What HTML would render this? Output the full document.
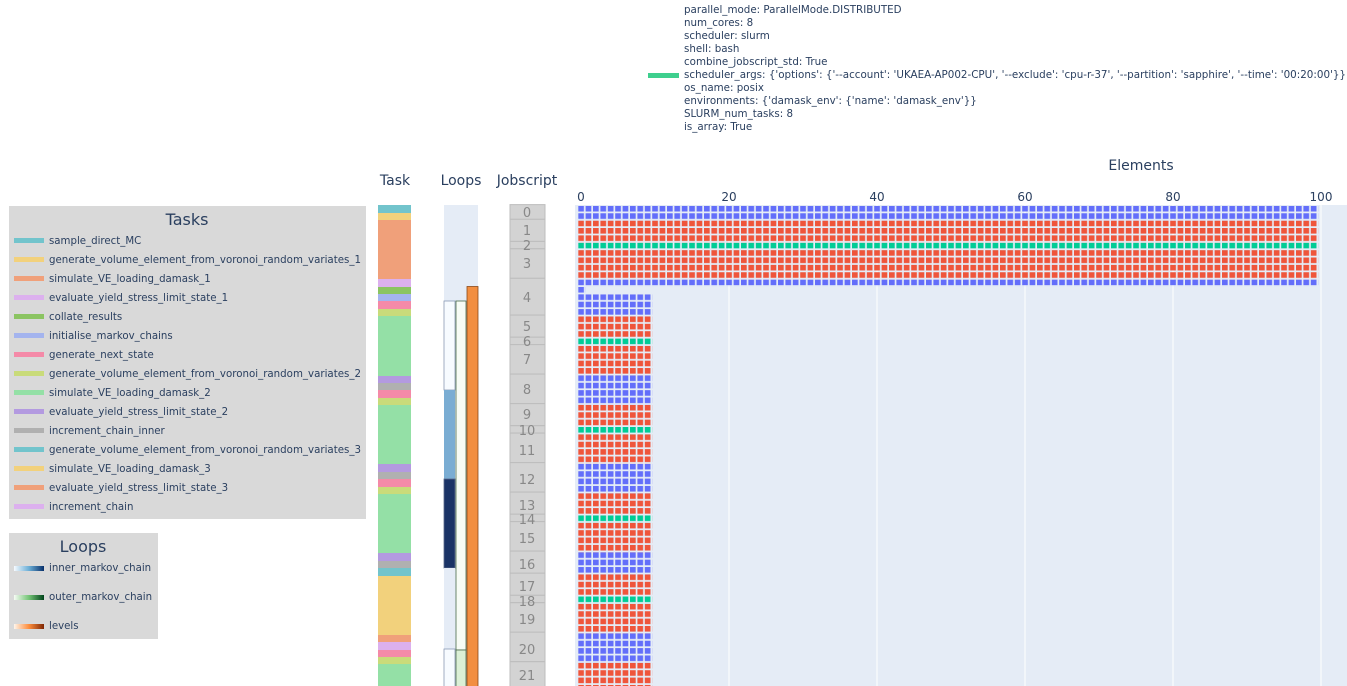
<!DOCTYPE html>
<html><head><meta charset="utf-8"><style>
html,body{margin:0;padding:0;background:#fff;width:1347px;height:686px;overflow:hidden}
svg{display:block;font-family:"DejaVu Sans","Liberation Sans",sans-serif}
</style></head><body>
<svg width="1347" height="686" viewBox="0 0 1347 686" xmlns="http://www.w3.org/2000/svg">
<defs>
<pattern id="pb" patternUnits="userSpaceOnUse" x="578.2" y="205.9" width="7.4" height="7.37"><rect width="5.7" height="5.6" fill="#636efa"/></pattern>
<pattern id="pr" patternUnits="userSpaceOnUse" x="578.2" y="205.9" width="7.4" height="7.37"><rect width="5.7" height="5.6" fill="#ef553b"/></pattern>
<pattern id="pg" patternUnits="userSpaceOnUse" x="578.2" y="205.9" width="7.4" height="7.37"><rect width="5.7" height="5.6" fill="#00cc96"/></pattern>
<linearGradient id="gi"><stop offset="0" stop-color="#f7fbff"/><stop offset="0.5" stop-color="#6baed6"/><stop offset="1" stop-color="#08306b"/></linearGradient>
<linearGradient id="go"><stop offset="0" stop-color="#f7fcf5"/><stop offset="0.5" stop-color="#74c476"/><stop offset="1" stop-color="#00441b"/></linearGradient>
<linearGradient id="gl"><stop offset="0" stop-color="#fff5eb"/><stop offset="0.5" stop-color="#fd8d3c"/><stop offset="1" stop-color="#7f2704"/></linearGradient>
</defs>

<rect x="648" y="73" width="31" height="5" fill="#3ecf8e"/>
<g font-size="10.3" fill="#2a3f5f">
<text x="684" y="13">parallel_mode: ParallelMode.DISTRIBUTED</text>
<text x="684" y="26">num_cores: 8</text>
<text x="684" y="39">scheduler: slurm</text>
<text x="684" y="52">shell: bash</text>
<text x="684" y="65">combine_jobscript_std: True</text>
<text x="684" y="78" textLength="662" lengthAdjust="spacingAndGlyphs">scheduler_args: {'options': {'--account': 'UKAEA-AP002-CPU', '--exclude': 'cpu-r-37', '--partition': 'sapphire', '--time': '00:20:00'}}</text>
<text x="684" y="91">os_name: posix</text>
<text x="684" y="104">environments: {'damask_env': {'name': 'damask_env'}}</text>
<text x="684" y="117">SLURM_num_tasks: 8</text>
<text x="684" y="130">is_array: True</text>
</g>

<g font-size="14" fill="#2a3f5f" text-anchor="middle">
<text x="395" y="185">Task</text>
<text x="461" y="185">Loops</text>
<text x="527" y="185">Jobscript</text>
<text x="1141" y="170">Elements</text>
</g>

<rect x="9" y="206" width="357" height="313" fill="#d9d9d9"/>
<text x="187" y="225" font-size="16" fill="#2a3f5f" text-anchor="middle">Tasks</text>
<g font-size="10.2" fill="#2a3f5f">
<rect x="14" y="238" width="30" height="5" fill="#72c4cc"/><text x="49" y="244">sample_direct_MC</text>
<rect x="14" y="257" width="30" height="5" fill="#f2d17c"/><text x="49" y="263" textLength="312" lengthAdjust="spacingAndGlyphs">generate_volume_element_from_voronoi_random_variates_1</text>
<rect x="14" y="276" width="30" height="5" fill="#f0a07a"/><text x="49" y="282">simulate_VE_loading_damask_1</text>
<rect x="14" y="295" width="30" height="5" fill="#dcb0ee"/><text x="49" y="301">evaluate_yield_stress_limit_state_1</text>
<rect x="14" y="314" width="30" height="5" fill="#8bc462"/><text x="49" y="320">collate_results</text>
<rect x="14" y="333" width="30" height="5" fill="#a4b4ee"/><text x="49" y="339">initialise_markov_chains</text>
<rect x="14" y="352" width="30" height="5" fill="#f48aa8"/><text x="49" y="358">generate_next_state</text>
<rect x="14" y="371" width="30" height="5" fill="#c9db7a"/><text x="49" y="377" textLength="312" lengthAdjust="spacingAndGlyphs">generate_volume_element_from_voronoi_random_variates_2</text>
<rect x="14" y="390" width="30" height="5" fill="#94e0a6"/><text x="49" y="396">simulate_VE_loading_damask_2</text>
<rect x="14" y="409" width="30" height="5" fill="#b39ae0"/><text x="49" y="415">evaluate_yield_stress_limit_state_2</text>
<rect x="14" y="428" width="30" height="5" fill="#b0b0b0"/><text x="49" y="434">increment_chain_inner</text>
<rect x="14" y="447" width="30" height="5" fill="#72c4cc"/><text x="49" y="453" textLength="312" lengthAdjust="spacingAndGlyphs">generate_volume_element_from_voronoi_random_variates_3</text>
<rect x="14" y="466" width="30" height="5" fill="#f2d17c"/><text x="49" y="472">simulate_VE_loading_damask_3</text>
<rect x="14" y="485" width="30" height="5" fill="#f0a07a"/><text x="49" y="491">evaluate_yield_stress_limit_state_3</text>
<rect x="14" y="504" width="30" height="5" fill="#dcb0ee"/><text x="49" y="510">increment_chain</text>
</g>

<rect x="9" y="533" width="149" height="106" fill="#d9d9d9"/>
<text x="83" y="552" font-size="16" fill="#2a3f5f" text-anchor="middle">Loops</text>
<g font-size="10.2" fill="#2a3f5f">
<rect x="14" y="566" width="30" height="5" fill="url(#gi)"/><text x="49" y="571">inner_markov_chain</text>
<rect x="14" y="595" width="30" height="5" fill="url(#go)"/><text x="49" y="600">outer_markov_chain</text>
<rect x="14" y="624" width="30" height="5" fill="url(#gl)"/><text x="49" y="629">levels</text>
</g>

<g>
<rect x="378" y="205" width="33" height="8" fill="#72c4cc"/>
<rect x="378" y="213" width="33" height="7" fill="#f2d17c"/>
<rect x="378" y="220" width="33" height="59" fill="#f0a07a"/>
<rect x="378" y="279" width="33" height="8" fill="#dcb0ee"/>
<rect x="378" y="287" width="33" height="7" fill="#8bc462"/>
<rect x="378" y="294" width="33" height="7" fill="#a4b4ee"/>
<rect x="378" y="301" width="33" height="8" fill="#f48aa8"/>
<rect x="378" y="309" width="33" height="7" fill="#c9db7a"/>
<rect x="378" y="316" width="33" height="60" fill="#94e0a6"/>
<rect x="378" y="376" width="33" height="7" fill="#b39ae0"/>
<rect x="378" y="383" width="33" height="7" fill="#b0b0b0"/>
<rect x="378" y="390" width="33" height="8" fill="#f48aa8"/>
<rect x="378" y="398" width="33" height="7" fill="#c9db7a"/>
<rect x="378" y="405" width="33" height="59" fill="#94e0a6"/>
<rect x="378" y="464" width="33" height="8" fill="#b39ae0"/>
<rect x="378" y="472" width="33" height="7" fill="#b0b0b0"/>
<rect x="378" y="479" width="33" height="8" fill="#f48aa8"/>
<rect x="378" y="487" width="33" height="7" fill="#c9db7a"/>
<rect x="378" y="494" width="33" height="59" fill="#94e0a6"/>
<rect x="378" y="553" width="33" height="8" fill="#b39ae0"/>
<rect x="378" y="561" width="33" height="7" fill="#b0b0b0"/>
<rect x="378" y="568" width="33" height="8" fill="#72c4cc"/>
<rect x="378" y="576" width="33" height="59" fill="#f2d17c"/>
<rect x="378" y="635" width="33" height="7" fill="#f0a07a"/>
<rect x="378" y="642" width="33" height="8" fill="#dcb0ee"/>
<rect x="378" y="650" width="33" height="7" fill="#f48aa8"/>
<rect x="378" y="657" width="33" height="7" fill="#c9db7a"/>
<rect x="378" y="664" width="33" height="22" fill="#94e0a6"/>
</g>

<rect x="444" y="205" width="34" height="481" fill="#e5ecf6"/>
<rect x="444" y="301" width="11" height="89" fill="#f7fbff" stroke="#8a9ab4" stroke-width="0.8"/>
<rect x="444" y="390" width="11" height="89" fill="#7aadd3"/>
<rect x="444" y="479" width="11" height="89" fill="#1a3366" stroke="#5a6a8a" stroke-width="0.8"/>
<rect x="444" y="568" width="11" height="81" fill="#e5ecf6"/>
<rect x="444" y="649" width="11" height="40" fill="#f7fbff" stroke="#8a9ab4" stroke-width="0.8"/>
<rect x="456" y="301" width="10" height="349" fill="#f7fcf5" stroke="#4a6a4a" stroke-width="0.8"/>
<rect x="456" y="650" width="10" height="40" fill="#dbf0d6" stroke="#4a6a4a" stroke-width="0.8"/>
<rect x="467" y="286.5" width="11" height="405" fill="#f28e40" stroke="#8a4a1a" stroke-width="0.8"/>

<g fill="#d3d3d3" stroke="#bdbdbd" stroke-width="1">
<rect x="510" y="204.6" width="35" height="14.7"/>
<rect x="510" y="219.3" width="35" height="22.1"/>
<rect x="510" y="241.4" width="35" height="7.4"/>
<rect x="510" y="248.8" width="35" height="29.5"/>
<rect x="510" y="278.3" width="35" height="36.8"/>
<rect x="510" y="315.1" width="35" height="22.1"/>
<rect x="510" y="337.2" width="35" height="7.4"/>
<rect x="510" y="344.6" width="35" height="29.5"/>
<rect x="510" y="374.1" width="35" height="29.5"/>
<rect x="510" y="403.6" width="35" height="22.1"/>
<rect x="510" y="425.7" width="35" height="7.4"/>
<rect x="510" y="433.1" width="35" height="29.5"/>
<rect x="510" y="462.6" width="35" height="29.5"/>
<rect x="510" y="492.1" width="35" height="22.1"/>
<rect x="510" y="514.2" width="35" height="7.4"/>
<rect x="510" y="521.6" width="35" height="29.5"/>
<rect x="510" y="551.1" width="35" height="22.1"/>
<rect x="510" y="573.2" width="35" height="22.1"/>
<rect x="510" y="595.3" width="35" height="7.4"/>
<rect x="510" y="602.7" width="35" height="29.5"/>
<rect x="510" y="632.2" width="35" height="29.5"/>
<rect x="510" y="661.7" width="35" height="30"/>
</g>
<g font-size="13" fill="#888" text-anchor="middle">
<text x="527" y="217">0</text><text x="527" y="235">1</text><text x="527" y="250">2</text><text x="527" y="268">3</text>
<text x="527" y="302">4</text><text x="527" y="331">5</text><text x="527" y="346">6</text><text x="527" y="364">7</text>
<text x="527" y="394">8</text><text x="527" y="419">9</text><text x="527" y="435">10</text><text x="527" y="455">11</text>
<text x="527" y="484">12</text><text x="527" y="510">13</text><text x="527" y="524">14</text><text x="527" y="543">15</text>
<text x="527" y="569">16</text><text x="527" y="591">17</text><text x="527" y="606">18</text><text x="527" y="624">19</text>
<text x="527" y="654">20</text><text x="527" y="680">21</text>
</g>

<rect x="575" y="205" width="772" height="481" fill="#e5ecf6"/>
<g stroke="#fff" stroke-width="1">
<line x1="729" y1="205" x2="729" y2="686"/><line x1="877" y1="205" x2="877" y2="686"/>
<line x1="1025" y1="205" x2="1025" y2="686"/><line x1="1173" y1="205" x2="1173" y2="686"/>
<line x1="1321" y1="205" x2="1321" y2="686"/>
</g>
<g font-size="12" fill="#2a3f5f" text-anchor="middle">
<text x="581" y="201">0</text><text x="729" y="201">20</text><text x="877" y="201">40</text>
<text x="1025" y="201">60</text><text x="1173" y="201">80</text><text x="1321" y="201">100</text>
</g>
<g>
<rect x="578.2" y="205.9" width="740" height="14.74" fill="url(#pb)"/>
<rect x="578.2" y="220.64" width="740" height="22.11" fill="url(#pr)"/>
<rect x="578.2" y="242.75" width="740" height="7.37" fill="url(#pg)"/>
<rect x="578.2" y="250.12" width="740" height="29.48" fill="url(#pr)"/>
<rect x="578.2" y="279.6" width="740" height="7.37" fill="url(#pb)"/>
<rect x="578.2" y="286.97" width="7.4" height="7.37" fill="url(#pb)"/>
<rect x="578.2" y="294.34" width="74" height="22.11" fill="url(#pb)"/>
<rect x="578.2" y="316.45" width="74" height="22.11" fill="url(#pr)"/>
<rect x="578.2" y="338.56" width="74" height="7.37" fill="url(#pg)"/>
<rect x="578.2" y="345.93" width="74" height="29.48" fill="url(#pr)"/>
<rect x="578.2" y="375.41" width="74" height="29.48" fill="url(#pb)"/>
<rect x="578.2" y="404.89" width="74" height="22.11" fill="url(#pr)"/>
<rect x="578.2" y="427.0" width="74" height="7.37" fill="url(#pg)"/>
<rect x="578.2" y="434.37" width="74" height="29.48" fill="url(#pr)"/>
<rect x="578.2" y="463.85" width="74" height="29.48" fill="url(#pb)"/>
<rect x="578.2" y="493.33" width="74" height="22.11" fill="url(#pr)"/>
<rect x="578.2" y="515.44" width="74" height="7.37" fill="url(#pg)"/>
<rect x="578.2" y="522.81" width="74" height="29.48" fill="url(#pr)"/>
<rect x="578.2" y="552.29" width="74" height="22.11" fill="url(#pb)"/>
<rect x="578.2" y="574.4" width="74" height="22.11" fill="url(#pr)"/>
<rect x="578.2" y="596.51" width="74" height="7.37" fill="url(#pg)"/>
<rect x="578.2" y="603.88" width="74" height="29.48" fill="url(#pr)"/>
<rect x="578.2" y="633.36" width="74" height="29.48" fill="url(#pb)"/>
<rect x="578.2" y="662.84" width="74" height="24" fill="url(#pr)"/>
</g>
</svg>
</body></html>
